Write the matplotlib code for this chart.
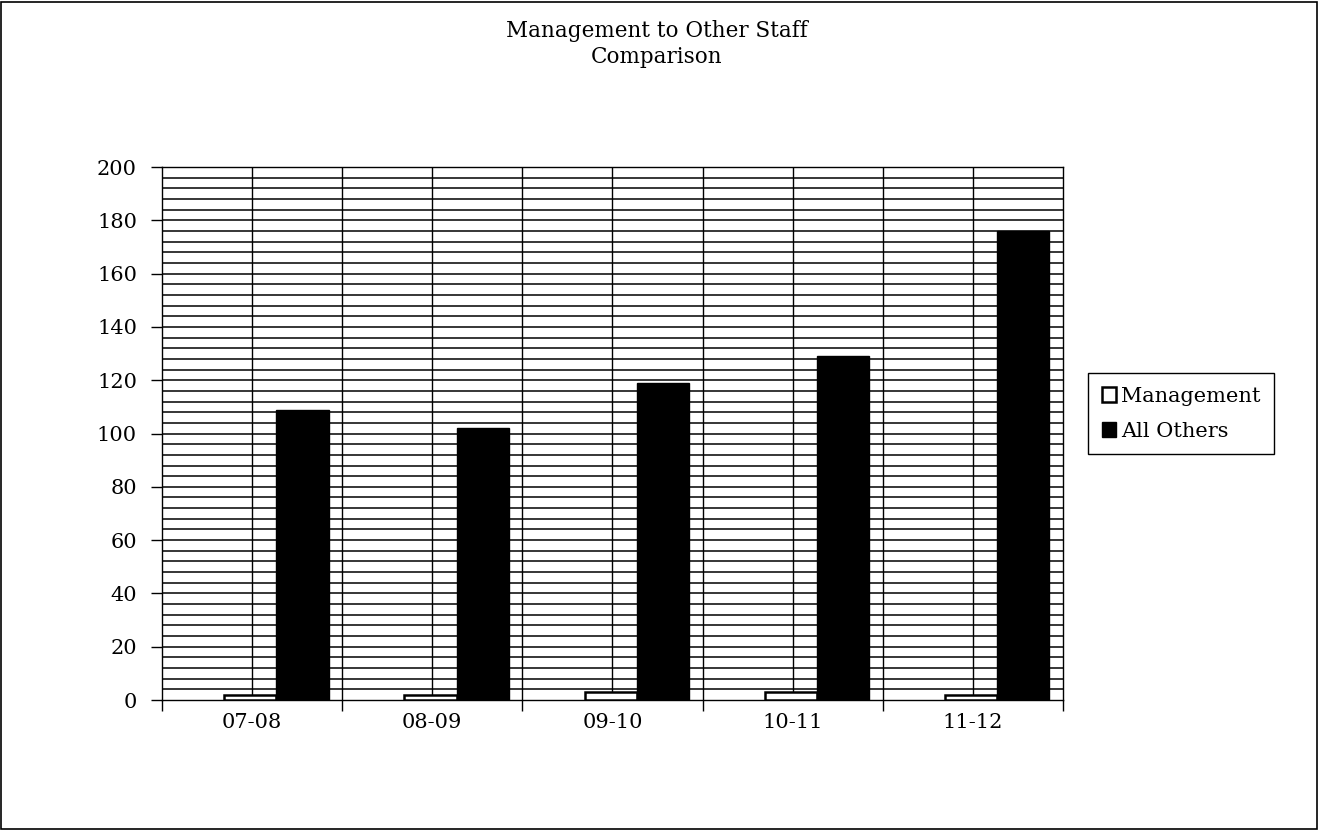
import matplotlib.pyplot as plt
import numpy as np
from matplotlib.patches import Rectangle

years = ["07-08", "08-09", "09-10", "10-11", "11-12"]
management = [2, 2, 3, 3, 2]
all_others = [109, 102, 119, 129, 176]

plt.rcParams['font.family'] = ['DejaVu Serif']

fig = plt.figure(figsize=(13.18, 8.31), dpi=100)
ax = fig.add_axes([0.1229, 0.1576, 0.6836, 0.6414])

x = np.arange(len(years))
w = 0.29
ax.bar(x - 0.01, management, w, color="white", edgecolor="black",
       linewidth=1.8, label="Management", zorder=3)
ax.bar(x - 0.01 + w, all_others, w, color="black", edgecolor="black",
       linewidth=1, label="All Others", zorder=3)

ax.set_xlim(-0.5, len(years) - 0.5)
ax.set_ylim(0, 200)

# grid: horizontal every 4, vertical every half category
for yv in np.arange(4, 200, 4):
    ax.axhline(yv, color="black", lw=1.1, zorder=1)
for xv in np.arange(0, len(years) - 0.5, 0.5):
    ax.axvline(xv, color="black", lw=1.0, zorder=1)

ax.set_yticks(np.arange(0, 201, 20))
ax.set_xticks(x)
ax.set_xticklabels(years)
ax.set_xticks(np.arange(-0.5, len(years), 1), minor=True)
ax.tick_params(axis="x", which="major", length=0, pad=9, labelsize=15)
ax.tick_params(axis="x", which="minor", length=8, direction="out", width=1)
ax.tick_params(axis="y", length=8, direction="out", width=1, pad=10, labelsize=15)

for s in ax.spines.values():
    s.set_color("black")
    s.set_linewidth(1.0)

fig.text(0.4985, 0.976, "Management to Other Staff\nComparison", ha="center",
         va="top", fontsize=15.5, linespacing=1.25)

leg = fig.legend(loc="center left", bbox_to_anchor=(0.8255, 0.502), fontsize=15,
                 fancybox=False, edgecolor="black", framealpha=1,
                 handlelength=0.7, handleheight=0.7, handletextpad=0.25,
                 borderpad=0.65, labelspacing=0.75, borderaxespad=0)
leg.get_frame().set_linewidth(1.0)

fig.patches.append(Rectangle((0.001, 0.002), 0.998, 0.996, transform=fig.transFigure,
                             fill=False, edgecolor="black", lw=1.2))

fig.savefig("out.png", dpi=100)
